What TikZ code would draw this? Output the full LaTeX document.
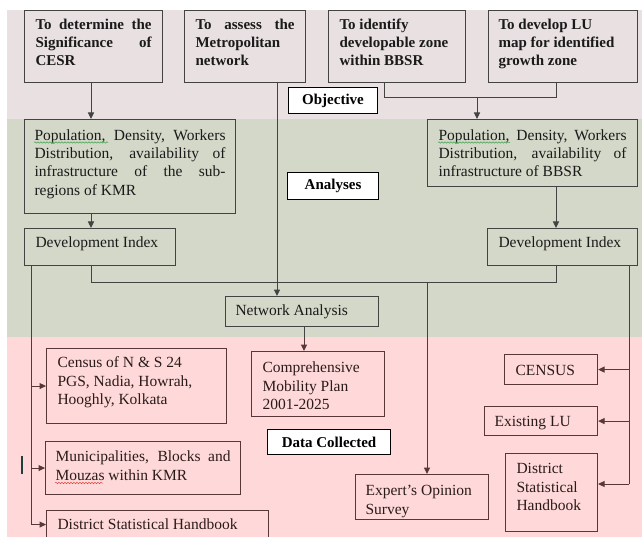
\documentclass[tikz,border=0pt]{standalone}
\usepackage{fontspec}
\setmainfont{Liberation Serif}
\usetikzlibrary{arrows.meta,decorations.pathmorphing}
\definecolor{topbg}{HTML}{E9E1E1}
\definecolor{midbg}{HTML}{D4D8C9}
\definecolor{lowbg}{HTML}{FFD9D9}
\definecolor{edgeg}{HTML}{434343}
\definecolor{edgep}{HTML}{573737}
\definecolor{inkg}{HTML}{1A1A1A}
\definecolor{inkp}{HTML}{2A1A1A}
\definecolor{squigg}{HTML}{3FA34D}
\definecolor{squigr}{HTML}{E0443C}
\definecolor{cursor}{HTML}{1F3F3F}
% #1 opts, #2 name, #3 x, #4 y, #5 w, #6 h, #7 padx, #8 first baseline, #9 text
\newcommand\bx[9][]{%
  \node[#1,anchor=north west,inner xsep=#7pt,inner ysep=0pt] (#2) at (#3,#4)
  {\parbox[c][#6pt][t]{\dimexpr#5pt-#7pt-#7pt\relax}{\rule{0pt}{#8pt}#9}};}
\tikzset{
  gbox/.style={draw=edgeg,line width=1.1pt,text=inkg,font=\fontsize{15.5}{18.2}\selectfont},
  obj/.style={gbox,font=\fontsize{15}{18}\selectfont\bfseries},
  pbox/.style={draw=edgep,line width=1.1pt,text=inkp,font=\fontsize{15.5}{18.5}\selectfont},
  lbl/.style={draw=black,fill=white,line width=1.1pt,inner sep=0pt,anchor=north west,
    font=\fontsize{15}{18}\selectfont\bfseries},
  gln/.style={draw=edgeg,line width=1pt},
  garr/.style={gln,-{Triangle[length=6.5pt,width=6pt]}},
  pln/.style={draw=edgep,line width=1pt},
  parr/.style={pln,-{Triangle[length=6.5pt,width=6pt]}},
}
\begin{document}
\begin{tikzpicture}[x=1pt,y=-1pt]
\path[use as bounding box,clip] (0,0) rectangle (642,537);
% bands
\fill[white] (0,0) rectangle (642,537);
\fill[topbg] (7,10) rectangle (642,119);
\fill[midbg] (7,119) rectangle (642,337);
\fill[lowbg] (7,337) rectangle (642,537);

% objective boxes
\bx[obj]{o1}{24}{10}{138}{72}{11}{19}{To determine the\linebreak Significance of\linebreak CESR}
\bx[obj]{o2}{184}{10}{121}{72}{11}{19}{To assess the\linebreak Metropolitan\\ network}
\bx[obj]{o3}{328}{10}{137}{72}{11}{19}{\raggedright To identify\\ developable zone\\ within BBSR}
\bx[obj]{o4}{488}{10}{149}{72}{10}{19}{\raggedright To develop LU\\ map for identified\\ growth zone}
\node[lbl,minimum width=89pt,minimum height=26pt] (lobj) at (288,87) {Objective};

% analyses
\bx[gbox]{p1}{24}{119}{211}{94}{10}{21}{Population, Density, Workers\linebreak Distribution, availability of\linebreak infrastructure of the sub-\linebreak regions of KMR}
\bx[gbox]{p2}{427}{119}{210}{67}{11}{21}{Population, Density, Workers\linebreak Distribution, availability of\linebreak infrastructure of BBSR}
\node[lbl,minimum width=91pt,minimum height=27pt] (lana) at (287,172) {Analyses};
\bx[gbox]{d1}{24}{228}{151}{37}{11}{19}{Development Index}
\bx[gbox]{d2}{487}{228}{150}{37}{11}{19}{Development Index}
\bx[gbox]{na}{225}{296}{153}{30}{10}{19}{Network Analysis}

% data collected
\bx[pbox]{c1}{46}{348}{180}{75}{11}{19}{\raggedright Census of N \& S 24\\ PGS, Nadia, Howrah,\\ Hooghly, Kolkata}
\bx[pbox]{mu}{45}{441}{195}{53}{10}{20}{Municipalities, Blocks and\linebreak Mouzas within KMR}
\bx[pbox]{s1}{46}{510}{222}{28}{11}{19}{District Statistical Handbook}
\bx[pbox]{cm}{251}{351}{133}{65}{11}{21}{\raggedright Comprehensive\\ Mobility Plan\\ 2001-2025}
\node[lbl,minimum width=123pt,minimum height=25pt] (ldat) at (267,429) {Data Collected};
\bx[pbox]{ex}{355}{474}{133}{45}{10}{21}{\raggedright Expert’s Opinion\\ Survey}
\bx[pbox]{ce}{504}{354}{93}{30}{11}{21}{CENSUS}
\bx[pbox]{lu}{484}{406}{113}{29}{10}{20}{Existing LU}
\bx[pbox]{s2}{505}{453}{92}{78}{11}{20}{\raggedright District\\ Statistical\\ Handbook}

% coordinates for connector columns
\coordinate (cL) at (91,0);
\coordinate (cN) at (277,0);
\coordinate (cD) at (556,0);
\coordinate (cA) at (31,0);
\coordinate (cR) at (629,0);
\coordinate (cS) at (304,0);
\coordinate (j1) at (384,98);
\coordinate (j2) at (556,98);
\coordinate (j3) at (477,98);
\coordinate (h1) at (91,282);
\coordinate (h2) at (556,282);
\coordinate (m1) at (427,282);
\coordinate (r3) at (629,484);

% top connectors
\draw[garr] (o1.south -| cL) -- (p1.north -| cL);
\draw[gln] (o3.south -| j1) |- (j2) -- (o4.south -| j2);
\draw[garr] (j3) -- (p2.north -| j3);
\draw[garr] (o2.south -| cN) -- (na.north -| cN);
\draw[garr] (p1.south -| cL) -- (d1.north -| cL);
\draw[garr] (p2.south -| cD) -- (d2.north -| cD);
\draw[gln] (d1.south -| h1) |- (h2) -- (d2.south -| h2);

% lower connectors
\draw[gln] (m1) -- (m1 |- 0,337);
\draw[parr] (m1 |- 0,337) -- (ex.north -| m1);
\draw[gln] (na.south -| cS) -- (cS |- 0,337);
\draw[parr] (cS |- 0,337) -- (cm.north -| cS);
\draw[gln] (d1.south -| cA) -- (cA |- 0,337);
\draw[pln] (cA |- 0,337) -- (cA |- s1.west);
\draw[parr] (cA |- c1.west) -- (c1.west);
\draw[parr] (cA |- mu.west) -- (mu.west);
\draw[parr] (cA |- s1.west) -- (s1.west);
\draw[gln] (d2.south -| cR) -- (cR |- 0,337);
\draw[pln] (cR |- 0,337) -- (r3);
\draw[parr] (cR |- ce.east) -- (ce.east);
\draw[parr] (cR |- lu.east) -- (lu.east);
\draw[parr] (r3) -- (s2.east |- r3);

% spell-check squiggles and stray cursor mark
\draw[squigg,line width=0.5pt,decorate,decoration={snake,segment length=3pt,amplitude=0.7pt}] (34,142.5) -- (108,142.5);
\draw[squigg,line width=0.5pt,decorate,decoration={snake,segment length=3pt,amplitude=0.7pt}] (438,142.5) -- (510,142.5);
\draw[squigr,line width=0.5pt,decorate,decoration={snake,segment length=3pt,amplitude=0.7pt}] (55,483) -- (103,483);
\draw[cursor,line width=1.8pt] (22,456) -- (22,474);
\end{tikzpicture}
\end{document}
